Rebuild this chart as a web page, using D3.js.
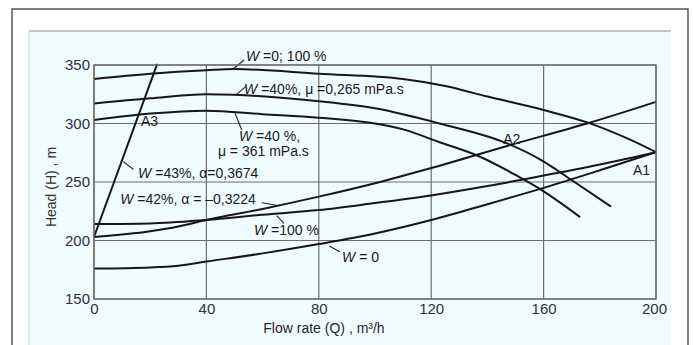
<!DOCTYPE html>
<html>
<head>
<meta charset="utf-8">
<script src="https://cdn.jsdelivr.net/npm/d3@7"></script>
<style>
  html, body { margin: 0; padding: 0; background: #fff; }
  svg { display: block; font-family: "Liberation Sans", Arial, sans-serif; }
</style>
</head>
<body>
<div class="chart"></div>
<script>
// axis ticks
const flowTicks = [0, 40, 80, 120, 160, 200];
const headTicks = [150, 200, 250, 300, 350];

// pump curves, [Q m3/h, H m]
const curveW0w100 = [[0, 338], [20, 342.5], [40, 345.5], [50, 346.5], [80, 342.5], [110, 338], [125, 332], [140, 323], [160, 311.5], [176, 300.5], [190, 287], [200, 275.5]];
const curveW40mu0265 = [[0, 317], [20, 321.5], [40, 325], [50, 324.5], [80, 319], [100, 313], [123, 300], [147, 283], [159, 269], [171, 250], [184, 229]];
const curveW40mu361 = [[0, 303], [20, 308.5], [40, 311], [60, 308], [80, 305], [100, 300], [110, 295], [123, 284], [137, 272], [150, 256], [160, 242], [173, 220]];
// system curves
const lineA3 = [[0, 203], [22.5, 351]];
const lineA2 = [[0, 203], [20, 208], [30, 212], [40, 217.5], [60, 227], [80, 237.5], [100, 249], [120, 262], [148, 281.5], [176, 300.4], [200, 318.5]];
const lineW100 = [[0, 214], [20, 214.5], [40, 217.5], [60, 222], [80, 226], [100, 232], [120, 238.5], [140, 246.5], [160, 255.5], [180, 265], [200, 275.5]];
const lineW0 = [[0, 176], [20, 177], [30, 178.5], [40, 182], [60, 189], [80, 197], [100, 206], [120, 217.5], [140, 231], [160, 245], [180, 260], [200, 275.5]];

// labels: [Q, H, italic part, rest]
const labels = [
  [54.1, 353.4, "W", " =0; 100 %"],
  [53.4, 325.2, "W", " =40%, \u03bc =0,265 mPa.s"],
  [51.6, 285, "W", " =40 %,"],
  [44.1, 272.6, "", "\u03bc = 361 mPa.s"],
  [15.7, 253, "W", " =43%, \u03b1=0,3674"],
  [16.7, 297.9, "", "A3"],
  [9.3, 231.2, "W", " =42%, \u03b1 = \u20130,3224"],
  [56.9, 204.7, "W", " =100 %"],
  [88.3, 181.6, "W", " = 0"],
  [145.6, 282.9, "", "A2"],
  [191.8, 256, "", "A1"]
];
// leader lines: [Q1, H1, Q2, H2]
const leaders = [
  [49.5, 346.6, 53.4, 354.3],
  [50.2, 323.8, 54.0, 331.5],
  [50.2, 308.7, 52.6, 294.4],
  [10.4, 267.4, 14.0, 260.9],
  [59.7, 232.3, 65.9, 229.7],
  [65.0, 221.2, 67.6, 214.7],
  [83.7, 195.3, 87.5, 190.4]
];

const width = 693, height = 345;
const plot = {left: 94, right: 656, top: 65, bottom: 299};

var svg = d3.select(".chart").append("svg")
        .attr("width", width)
        .attr("height", height);

// page frame
svg.append("rect")
        .attr("x", 12).attr("y", 9)
        .attr("width", 676).attr("height", 360)
        .attr("fill", "#fff")
        .attr("stroke", "#555").attr("stroke-width", 1.5);
svg.append("rect")
        .attr("x", 29).attr("y", 31)
        .attr("width", 642).attr("height", 330)
        .attr("fill", "#effcfe");
svg.append("line")
        .attr("x1", 29).attr("x2", 671).attr("y1", 31).attr("y2", 31)
        .attr("stroke", "#8a8a8a").attr("stroke-width", 1.2);
svg.append("line")
        .attr("x1", 29).attr("x2", 29).attr("y1", 31).attr("y2", 345)
        .attr("stroke", "#c8d4d6").attr("stroke-width", 1);

var x = d3.scaleLinear().domain([0, 200]).range([plot.left, plot.right]);
var y = d3.scaleLinear().domain([150, 350]).range([plot.bottom, plot.top]);

// grid
svg.append("g").selectAll("line")
        .data(flowTicks)
        .enter().append("line")
        .attr("x1", (d) => x(d)).attr("x2", (d) => x(d))
        .attr("y1", plot.top).attr("y2", plot.bottom)
        .attr("stroke", "#6e6e6e").attr("stroke-width", 1.2);
svg.append("g").selectAll("line")
        .data(headTicks)
        .enter().append("line")
        .attr("x1", plot.left).attr("x2", plot.right)
        .attr("y1", (d) => y(d)).attr("y2", (d) => y(d))
        .attr("stroke", "#6e6e6e").attr("stroke-width", 1.2);

// tick labels
var xAxis = svg.append("g")
        .attr("transform", "translate(0," + plot.bottom + ")")
        .call(d3.axisBottom(x).tickValues(flowTicks).tickSize(0).tickPadding(3));
var yAxis = svg.append("g")
        .attr("transform", "translate(" + plot.left + ",0)")
        .call(d3.axisLeft(y).tickValues(headTicks).tickSize(0).tickPadding(4));
[xAxis, yAxis].forEach(function (g) {
    g.select(".domain").remove();
    g.selectAll("text")
            .attr("font-family", "'Liberation Sans', Arial, sans-serif")
            .attr("font-size", 15)
            .attr("fill", "#2c3140");
});
xAxis.selectAll("text").attr("dy", "0.78em");
xAxis.selectAll("text").filter((d) => d === 200).attr("dx", -2);

var line = d3.line()
        .x((d) => x(d[0]))
        .y((d) => y(d[1]))
        .curve(d3.curveMonotoneX);

[curveW0w100, curveW40mu0265, curveW40mu361, lineA2, lineW100, lineW0].forEach(function (c) {
    svg.append("path")
            .attr("d", line(c))
            .attr("fill", "none")
            .attr("stroke", "#161616")
            .attr("stroke-width", 2);
});
svg.append("path")
        .attr("d", d3.line().x((d) => x(d[0])).y((d) => y(d[1]))(lineA3))
        .attr("fill", "none")
        .attr("stroke", "#161616")
        .attr("stroke-width", 2);

// leaders
svg.append("g").selectAll("line")
        .data(leaders)
        .enter().append("line")
        .attr("x1", (d) => x(d[0])).attr("y1", (d) => y(d[1]))
        .attr("x2", (d) => x(d[2])).attr("y2", (d) => y(d[3]))
        .attr("stroke", "#222").attr("stroke-width", 1.1);

// annotations
var lab = svg.append("g").selectAll("text")
        .data(labels)
        .enter().append("text")
        .attr("x", (d) => x(d[0]))
        .attr("y", (d) => y(d[1]))
        .attr("font-size", 14)
        .attr("fill", "#1a1a1a");
lab.append("tspan")
        .attr("font-style", "italic")
        .text((d) => d[2]);
lab.append("tspan")
        .text((d) => d[3]);

// plot border
svg.append("rect")
        .attr("x", plot.left).attr("y", plot.top)
        .attr("width", plot.right - plot.left)
        .attr("height", plot.bottom - plot.top)
        .attr("fill", "none")
        .attr("stroke", "#6e6e6e").attr("stroke-width", 1.4);

// axis titles
svg.append("text")
        .attr("x", 324).attr("y", 333)
        .attr("text-anchor", "middle")
        .attr("font-size", 14)
        .attr("fill", "#262626")
        .text("Flow rate (Q) , m\u00b3/h");
svg.append("text")
        .attr("transform", "translate(56,187) rotate(-90)")
        .attr("text-anchor", "middle")
        .attr("font-size", 14)
        .attr("fill", "#3a2e2a")
        .text("Head (H) , m");
</script>
</body>
</html>
